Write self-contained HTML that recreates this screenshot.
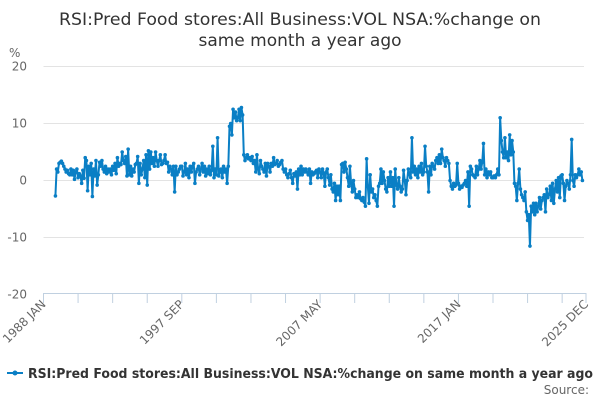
<!DOCTYPE html>
<html><head><meta charset="utf-8"><style>
body{margin:0;background:#fff;font-family:"Liberation Sans","DejaVu Sans",sans-serif}
svg text{font-family:"DejaVu Sans","Liberation Sans",sans-serif}
</style></head><body>
<svg id="chart" width="600" height="400" viewBox="0 0 600 400">
<text x="300" y="25" text-anchor="middle" font-size="17" fill="#333" textLength="482" lengthAdjust="spacingAndGlyphs">RSI:Pred Food stores:All Business:VOL NSA:%change on</text>
<text x="300" y="46" text-anchor="middle" font-size="17" fill="#333">same month a year ago</text>
<text x="9" y="57" font-size="12" fill="#666">%</text>
<g id="grid"></g>
<g id="xaxis"></g>
<g id="series"></g>
<g>
<line x1="7" y1="373" x2="23" y2="373" stroke="#0a7fc5" stroke-width="2"/>
<circle cx="15" cy="373" r="2.5" fill="#0a7fc5"/>
<text x="28" y="378" font-size="13" font-weight="bold" fill="#333" textLength="565" lengthAdjust="spacingAndGlyphs">RSI:Pred Food stores:All Business:VOL NSA:%change on same month a year ago</text>
</g>
<text x="589" y="394" text-anchor="end" font-size="12" fill="#666">Source:</text>
</svg>
<script>
const yTicks=[20,10,0,-10,-20];
const xTickLabels=["1988 JAN","1997 SEP","2007 MAY","2017 JAN","2025 DEC"];
const xTickMonths=[0,116,232,348,455];
const startMonth=10;
const values=[
-2.7,2.0,1.5,3.0,3.2,3.4,3.0,2.5,2.0,1.5,1.8,1.2,
1.0,2.0,1.0,1.8,0.2,1.5,2.0,0.5,1.2,0.8,-0.5,1.8,
0.4,4.0,3.5,-1.8,2.5,1.0,3.0,-2.8,2.0,0.8,3.5,-0.8,
1.0,3.2,2.5,3.5,2.0,1.5,2.5,1.2,2.0,1.5,2.0,1.0,
2.5,1.8,3.0,1.2,4.0,2.5,3.0,2.8,5.0,3.5,3.0,4.2,
0.8,5.5,1.0,2.5,0.8,2.0,1.5,2.8,3.0,4.2,-0.5,3.0,
1.0,2.0,3.5,0.5,4.5,-0.8,5.2,2.0,5.0,3.0,4.0,2.5,
5.0,3.5,2.5,3.5,4.5,2.8,3.0,3.5,4.5,3.0,3.2,1.5,
2.5,2.0,1.0,2.5,-2.0,2.5,1.0,1.5,2.0,2.5,2.5,0.8,
1.5,3.0,1.0,2.0,0.5,2.5,1.5,2.5,3.0,-0.5,1.5,2.0,
2.5,1.0,2.0,3.0,1.5,2.5,0.8,2.0,1.2,2.5,1.0,1.8,
6.0,0.5,2.0,1.0,7.5,0.8,1.5,2.0,0.5,2.5,1.5,2.0,
-0.5,2.5,
9.5,10.0,8.0,12.5,11.0,12.0,10.5,11.0,12.5,10.5,12.8,11.5,
4.5,3.5,4.0,4.5,3.8,4.0,3.5,4.2,3.0,3.5,1.5,4.5,
2.0,1.2,3.5,2.5,2.0,1.5,3.0,0.8,3.0,2.5,1.5,3.0,
2.5,4.0,2.8,3.0,3.5,2.5,2.8,3.2,3.5,2.0,1.5,2.0,
1.0,0.5,1.2,1.8,0.5,-0.5,1.2,0.8,1.5,-1.5,2.0,1.0,
2.5,1.0,2.0,1.5,2.0,1.5,1.0,2.0,-0.5,1.5,1.0,1.2,
1.5,1.8,0.5,2.0,1.5,0.5,2.0,1.2,-1.0,1.5,2.0,0.5,
-0.8,1.0,-1.5,-2.0,-0.5,-3.5,-1.0,-2.5,-1.0,-3.5,2.8,3.0,
1.5,3.2,2.0,0.5,-1.0,2.5,-0.5,-2.0,0.0,-1.5,-3.0,-2.5,
-3.0,-2.0,-3.2,-3.5,-3.0,-3.8,-4.5,3.8,-1.0,-4.0,1.0,-2.0,
-1.5,-3.0,-2.5,-3.5,-4.5,-1.0,-0.5,
2.0,-0.5,1.5,0.0,-1.5,-2.0,0.5,-1.0,1.5,-1.0,0.5,-4.5,
2.0,-0.8,-1.5,0.5,-1.0,-2.0,-1.5,1.8,0.0,-2.5,0.0,2.0,
1.0,0.5,7.5,1.5,2.5,1.0,2.0,0.5,2.5,1.5,3.0,1.0,
1.5,6.0,2.5,1.5,-2.0,2.5,1.0,3.0,2.5,2.0,3.5,4.0,
3.0,4.5,3.0,5.5,4.0,3.5,2.5,4.0,3.5,3.0,
0.0,-1.0,-1.5,-0.5,-1.0,-0.8,3.0,-0.5,-1.5,-1.0,-1.2,-0.8,
-0.5,0.0,-1.0,1.5,-4.5,2.5,2.0,1.0,0.8,0.5,2.5,1.0,
2.0,3.5,2.0,3.2,6.5,1.0,2.0,0.5,1.5,1.0,1.5,0.5,
0.5,0.8,0.5,1.0,2.0,1.0,
11.0,7.0,5.0,4.0,7.5,4.0,5.0,3.5,8.0,4.5,7.0,5.0,
-0.5,-1.0,-3.5,-0.5,2.0,-1.5,-2.5,-3.0,-3.5,-2.0,-5.5,-7.0,-6.0,
-11.5,-4.5,-5.5,-4.0,-6.0,-4.0,-5.5,-4.5,-3.0,-5.0,-3.5,-3.0,
-2.5,-5.5,-1.5,-3.0,-2.5,-1.0,-3.5,-0.5,-4.0,-1.5,0.0,-2.0,
0.5,-3.0,0.8,1.0,-0.5,-3.5,-1.0,0.0,-0.5,-1.5,1.0,7.2,
0.0,-1.0,1.0,0.5,1.0,2.0,1.0,1.5,0.0
];
const NS="http://www.w3.org/2000/svg";
const X0=43.5,X1=586,MAXM=455,Y0=180.5,PPU=5.7;
function xs(m){return X0+(X1-X0)*m/MAXM;}
function ys(v){return Y0-v*PPU;}
function mk(t,a,p){const e=document.createElementNS(NS,t);for(const k in a)e.setAttribute(k,a[k]);p.appendChild(e);return e;}
const grid=document.getElementById('grid');
yTicks.forEach(v=>{
  if(v!==-20){const l=mk('line',{x1:X0,x2:X1-2,y1:ys(v),y2:ys(v),stroke:'#e3e3e3','stroke-width':1},grid);
  
  }
  const t=mk('text',{x:27,y:ys(v)+4,'text-anchor':'end','font-size':12,fill:'#666'},grid);
  t.textContent=v;
  
  
});
const xa=document.getElementById('xaxis');
const al=mk('line',{x1:X0,x2:X1,y1:293.5,y2:293.5,stroke:'#c0d0e0','stroke-width':1},xa);


for(let m=0;m<=MAXM;m+=29){
  const tk=mk('line',{x1:xs(m),x2:xs(m),y1:293,y2:303,stroke:'#c0d0e0'},xa);
  
  
}
const te=mk('line',{x1:xs(MAXM),x2:xs(MAXM),y1:293,y2:303,stroke:'#c0d0e0'},xa);


xTickLabels.forEach((s,i)=>{
  const x=xs(xTickMonths[i])+3,y=305;
  const t=mk('text',{x:x,y:y,'text-anchor':'end','font-size':12,fill:'#666',transform:`rotate(-45 ${x} ${y})`},xa);
  t.textContent=s;
  
  
});
const sg=document.getElementById('series');
const pts=values.map((v,i)=>xs(startMonth+i).toFixed(2)+','+ys(v).toFixed(2)).join(' ');
const pl=mk('polyline',{points:pts,fill:'none',stroke:'#0a7fc5','stroke-width':2,'stroke-linejoin':'round'},sg);


values.forEach((v,i)=>{
  const c=mk('circle',{cx:xs(startMonth+i),cy:ys(v),r:1.8,fill:'#0a7fc5'},sg);
  
  
});
</script>
</body></html>
